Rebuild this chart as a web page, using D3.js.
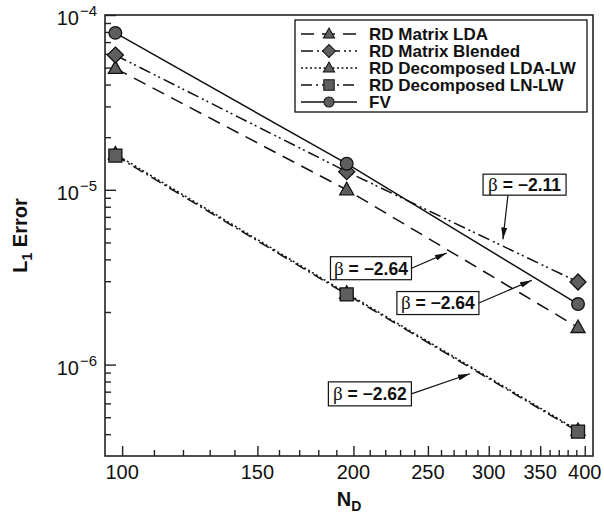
<html lang="en">
<head>
<meta charset="utf-8">
<title>L1 Error vs N_D</title>
<script src="https://d3js.org/d3.v7.min.js"></script>
<style>
  body { margin: 0; background: #fff; }
  svg { display: block; font-family: "Liberation Sans", Arial, Helvetica, sans-serif; }
  .frame { fill: none; stroke: #222; stroke-width: 1.6px; }
  .axis path { display: none; }
  .axis line { stroke: #222; stroke-width: 1.4px; }
  .series-line { fill: none; stroke: #111; stroke-width: 1.5px; }
  .mark { fill: #5e5e5e; stroke: #111; stroke-width: 1.3px; }
  .tick-label { font-size: 20px; fill: #111; }
  .title { font-size: 20px; font-weight: bold; fill: #111; }
  .legend-text { font-size: 17px; font-weight: bold; fill: #111; }
  .beta-box { fill: #fff; stroke: #111; stroke-width: 1.2px; }
  .beta-text { font-size: 17.5px; font-weight: bold; fill: #111; }
  .arrow { stroke: #111; stroke-width: 1.2px; fill: none; }
</style>
</head>
<body>
<svg id="chart" width="604" height="515"></svg>
<script>
// ---- data ----
var nD = [98, 196, 392];

var rdMatrixLDA = [4.95e-5, 1.0e-5, 1.63e-6];
var rdMatrixBlended = [5.9e-5, 1.27e-5, 2.97e-6];
var rdDecompLDALW = [1.6e-5, 2.56e-6, 4.2e-7];
var rdDecompLNLW = [1.57e-5, 2.52e-6, 4.14e-7];
var fv = [7.9e-5, 1.41e-5, 2.22e-6];

var seriesNames = ["RD Matrix LDA", "RD Matrix Blended", "RD Decomposed LDA-LW", "RD Decomposed LN-LW", "FV"];

var xMajorTicks = [100, 150, 200, 250, 300, 350, 400];
var xMinorTicks = [110, 120, 130, 140, 160, 170, 180, 190, 210, 220, 230, 240, 260, 270, 280, 290,
                   310, 320, 330, 340, 360, 370, 380, 390];
var yMajorTicks = [1e-4, 1e-5, 1e-6];
var yMajorExp = ["\u22124", "\u22125", "\u22126"];
var yMinorTicks = [9e-5, 8e-5, 7e-5, 6e-5, 5e-5, 4e-5, 3e-5, 2e-5,
                   9e-6, 8e-6, 7e-6, 6e-6, 5e-6, 4e-6, 3e-6, 2e-6,
                   9e-7, 8e-7, 7e-7, 6e-7, 5e-7, 4e-7];

var betaLabels = ["\u22122.11", "\u22122.64", "\u22122.64", "\u22122.62"];

// ---- layout ----
var svg = d3.select("#chart");
var pLeft = 105, pRight = 593, pTop = 15, pBottom = 456;

var x = d3.scaleLog().domain([95, 410]).range([pLeft, pRight]);
var y = d3.scaleLog().domain([3e-7, 1e-4]).range([pBottom, pTop]);

// series styling (dash + marker)
var allSeries = [
  {name: seriesNames[0], values: rdMatrixLDA, dash: "13,8", marker: "triangle"},
  {name: seriesNames[1], values: rdMatrixBlended, dash: "12,4,2,3,2,4", marker: "diamond"},
  {name: seriesNames[2], values: rdDecompLDALW, dash: "2,2.5", marker: "triangle"},
  {name: seriesNames[3], values: rdDecompLNLW, dash: "11,4,2,4", marker: "square"},
  {name: seriesNames[4], values: fv, dash: null, marker: "circle"}
];

function markerPath(type) {
  if (type == "triangle") return "M0,-7.5L7,5L-7,5Z";
  if (type == "diamond") return "M0,-8L8,0L0,8L-8,0Z";
  if (type == "square") return "M-6.5,-6.5H6.5V6.5H-6.5Z";
  return d3.symbol().type(d3.symbolCircle).size(Math.PI * 40)();
}

// ticks (pointing inward)
svg.append("g")
  .attr("class", "axis")
  .attr("transform", "translate(0," + pBottom + ")")
  .call(d3.axisBottom(x).tickValues(xMajorTicks).tickSizeInner(-10).tickSizeOuter(0).tickFormat(""));
svg.append("g")
  .attr("class", "axis")
  .attr("transform", "translate(0," + pBottom + ")")
  .call(d3.axisBottom(x).tickValues(xMinorTicks).tickSizeInner(-6).tickSizeOuter(0).tickFormat(""));
svg.append("g")
  .attr("class", "axis")
  .attr("transform", "translate(" + pLeft + ",0)")
  .call(d3.axisLeft(y).tickValues(yMajorTicks).tickSizeInner(-11).tickSizeOuter(0).tickFormat(""));
svg.append("g")
  .attr("class", "axis")
  .attr("transform", "translate(" + pLeft + ",0)")
  .call(d3.axisLeft(y).tickValues(yMinorTicks).tickSizeInner(-6).tickSizeOuter(0).tickFormat(""));

// tick labels
svg.selectAll(".xlab")
  .data(xMajorTicks)
  .enter().append("text")
  .attr("class", "tick-label")
  .attr("x", function (d) { return x(d); })
  .attr("y", pBottom + 23)
  .attr("text-anchor", "middle")
  .text(function (d) { return d; });

var ylab = svg.selectAll(".ylab")
  .data(yMajorTicks)
  .enter().append("text")
  .attr("class", "tick-label")
  .attr("x", 97)
  .attr("y", function (d) { return y(d) + 10; })
  .attr("text-anchor", "end");
ylab.append("tspan").text("10");
ylab.append("tspan")
  .attr("dy", -9)
  .attr("dx", 1)
  .style("font-size", "15px")
  .text(function (d, i) { return yMajorExp[i]; });

// frame
svg.append("rect")
  .attr("class", "frame")
  .attr("x", pLeft).attr("y", pTop)
  .attr("width", pRight - pLeft).attr("height", pBottom - pTop);

// titles
var xt = svg.append("text")
  .attr("class", "title")
  .attr("x", (pLeft + pRight) / 2)
  .attr("y", 506)
  .attr("text-anchor", "middle");
xt.append("tspan").text("N");
xt.append("tspan").attr("dy", 5).style("font-size", "14px").text("D");

var yt = svg.append("text")
  .attr("class", "title")
  .attr("transform", "translate(27," + ((pTop + pBottom) / 2) + ") rotate(-90)")
  .attr("text-anchor", "middle");
yt.append("tspan").text("L");
yt.append("tspan").attr("dy", 5).style("font-size", "14px").text("1");
yt.append("tspan").attr("dy", -5).text(" Error");

// lines
var line = d3.line()
  .x(function (d, i) { return x(nD[i]); })
  .y(function (d) { return y(d); });

var series = svg.selectAll(".series")
  .data(allSeries)
  .enter().append("g")
  .attr("class", "series");

series.append("path")
  .attr("class", "series-line")
  .attr("d", function (d) { return line(d.values); })
  .style("stroke-dasharray", function (d) { return d.dash; });

series.selectAll(".mark")
  .data(function (d) { return d.values.map(function (v, i) { return {v: v, i: i, marker: d.marker}; }); })
  .enter().append("path")
  .attr("class", "mark")
  .attr("transform", function (d) { return "translate(" + x(nD[d.i]) + "," + y(d.v) + ")"; })
  .attr("d", function (d) { return markerPath(d.marker); });

// legend
var lg = svg.append("g").attr("transform", "translate(295,20)");
lg.append("rect")
  .attr("width", 292).attr("height", 92)
  .attr("fill", "#fff").attr("stroke", "#111").attr("stroke-width", 1.3);
var item = lg.selectAll(".item")
  .data(allSeries)
  .enter().append("g")
  .attr("transform", function (d, i) { return "translate(0," + (14 + i * 17) + ")"; });
item.append("line")
  .attr("class", "series-line")
  .attr("x1", 6).attr("x2", 62)
  .style("stroke-dasharray", function (d) { return d.dash; });
item.append("path")
  .attr("class", "mark")
  .attr("transform", "translate(34,0) scale(0.8)")
  .attr("d", function (d) { return markerPath(d.marker); });
item.append("text")
  .attr("class", "legend-text")
  .attr("x", 74)
  .attr("dy", "0.36em")
  .text(function (d) { return d.name; });

// slope annotations (box centre and arrow tip in data units)
var notes = [
  {label: betaLabels[0], bx: 334, by: 1.07e-5, tx: 313, ty: 5.2e-6, side: "bottom", w: 83, h: 21},
  {label: betaLabels[1], bx: 210.8, by: 3.56e-6, tx: 264.6, ty: 4.35e-6, side: "right", w: 81, h: 23},
  {label: betaLabels[2], bx: 257.6, by: 2.25e-6, tx: 341.4, ty: 3.04e-6, side: "right", w: 82, h: 23},
  {label: betaLabels[3], bx: 210.1, by: 6.8e-7, tx: 283.5, ty: 8.87e-7, side: "right", w: 83, h: 24}
];

svg.append("defs").append("marker")
  .attr("id", "head")
  .attr("viewBox", "0 0 12 6")
  .attr("refX", 12).attr("refY", 3)
  .attr("markerWidth", 12).attr("markerHeight", 6)
  .attr("markerUnits", "userSpaceOnUse")
  .attr("orient", "auto")
  .append("path")
  .attr("d", "M0,0L12,3L0,6Z")
  .attr("fill", "#111");

var note = svg.selectAll(".note")
  .data(notes)
  .enter().append("g");

note.append("line")
  .attr("class", "arrow")
  .attr("x1", function (d) { return d.side == "right" ? x(d.bx) + d.w / 2 : x(d.bx) - d.w * 0.2; })
  .attr("y1", function (d) { return d.side == "right" ? y(d.by) : y(d.by) + d.h / 2; })
  .attr("x2", function (d) { return x(d.tx); })
  .attr("y2", function (d) { return y(d.ty); })
  .attr("marker-end", "url(#head)");

note.append("rect")
  .attr("class", "beta-box")
  .attr("x", function (d) { return x(d.bx) - d.w / 2; })
  .attr("y", function (d) { return y(d.by) - d.h / 2; })
  .attr("width", function (d) { return d.w; })
  .attr("height", function (d) { return d.h; });

var bt = note.append("text")
  .attr("class", "beta-text")
  .attr("x", function (d) { return x(d.bx); })
  .attr("y", function (d) { return y(d.by); })
  .attr("dy", "0.36em")
  .attr("text-anchor", "middle");
bt.append("tspan")
  .style("font-weight", "normal")
  .style("font-family", "'Liberation Serif', 'DejaVu Serif', serif")
  .style("font-size", "19px")
  .text("\u03b2");
bt.append("tspan").text(function (d) { return " = " + d.label; });
</script>
</body>
</html>
